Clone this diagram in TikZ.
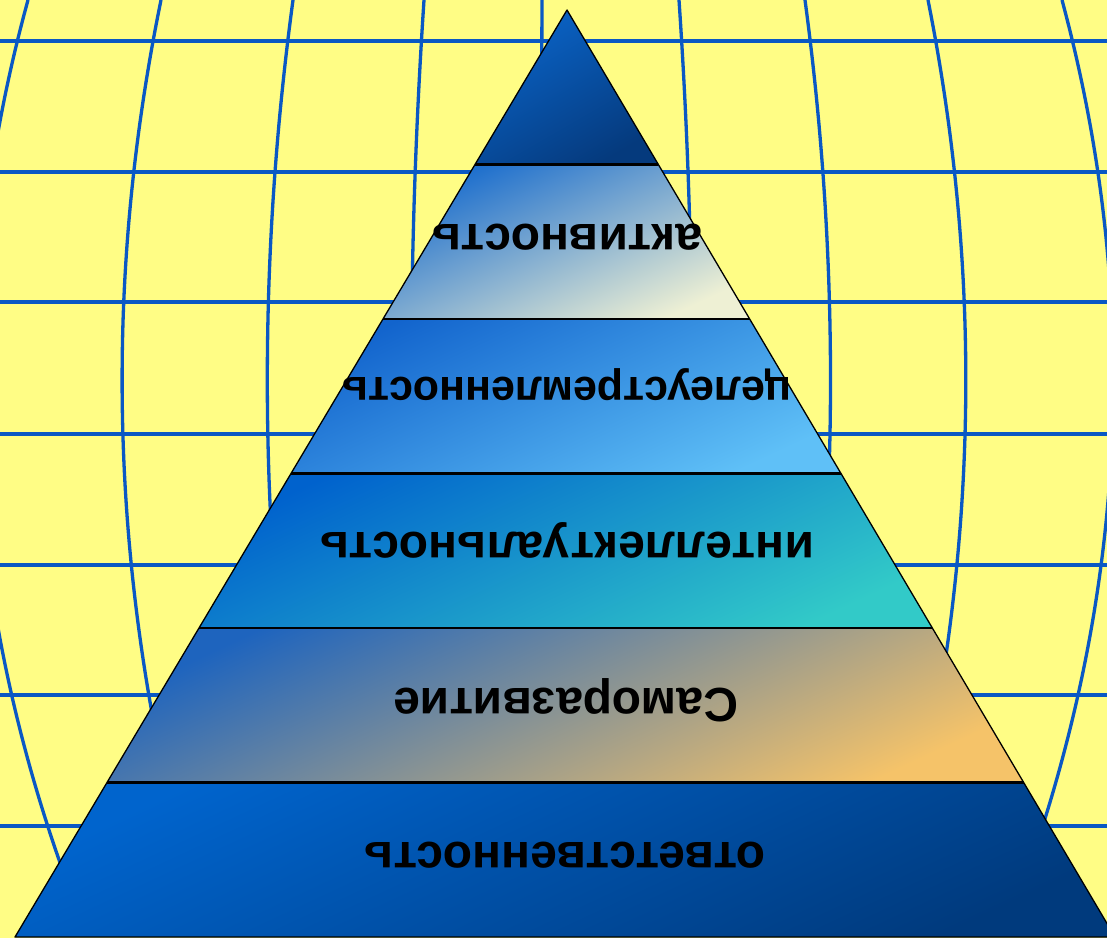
\documentclass[tikz,border=0pt]{standalone}
\usepackage{fontspec}
\setmainfont{Liberation Sans}
\usetikzlibrary{calc}
\definecolor{bgyellow}{RGB}{255,253,133}
\definecolor{gridblue}{RGB}{10,88,196}
\definecolor{caA}{RGB}{10,100,200}\definecolor{caB}{RGB}{5,58,125}\definecolor{caM}{RGB}{6,82,170}
\definecolor{cbA}{RGB}{25,108,205}\definecolor{cbM}{RGB}{90,152,205}\definecolor{cbB}{RGB}{238,240,212}
\definecolor{ccA}{RGB}{18,100,205}\definecolor{ccM}{RGB}{40,135,225}\definecolor{ccB}{RGB}{95,192,247}
\definecolor{cdA}{RGB}{0,98,205}\definecolor{cdM}{RGB}{18,140,205}\definecolor{cdB}{RGB}{50,202,200}
\definecolor{ceA}{RGB}{30,100,190}\definecolor{ceM}{RGB}{110,145,168}\definecolor{ceB}{RGB}{245,195,105}
\definecolor{cfA}{RGB}{0,100,205}\definecolor{cfM}{RGB}{0,88,180}\definecolor{cfB}{RGB}{0,58,125}
\begin{document}
\begin{tikzpicture}[x=1pt,y=-1pt,
  gridline/.style={gridblue, line width=3.3pt},
  outline/.style={draw=black, line width=1.3pt, line join=round},
  sepline/.style={black, line width=2.6pt},
  lbl/.style={font=\bfseries\fontsize{48}{48}\selectfont, rotate=180, inner sep=0pt, text height=25pt, text depth=0pt},
  lblsmall/.style={lbl, font=\bfseries\fontsize{43}{43}\selectfont, text height=22.5pt},
  layA/.style={top color=caA, middle color=caM, bottom color=caB, shading angle=30},
  layB/.style={top color=cbA, middle color=cbM, bottom color=cbB, shading angle=25},
  layC/.style={top color=ccA, middle color=ccM, bottom color=ccB, shading angle=25},
  layD/.style={top color=cdA, middle color=cdM, bottom color=cdB, shading angle=25},
  layE/.style={top color=ceA, middle color=ceM, bottom color=ceB, shading angle=25},
  layF/.style={top color=cfA, middle color=cfM, bottom color=cfB, shading angle=25}]
\useasboundingbox (0,0) rectangle (1107,938);
\fill[bgyellow] (0,0) rectangle (1107,938);
\begin{scope}
\clip (0,0) rectangle (1107,938);
% grid
\foreach \yy in {41,172,302,434,565,695,826} \draw[gridline] (0,\yy) -- (1107,\yy);
\foreach \d in {-522,-389,-257,-126,-8,129,255,378,512}
  \draw[gridline] plot[domain=0:925, samples=60, smooth] ({550+\d*(1+0.1*(\x/380)*(2-\x/380))}, \x);
% pyramid
\coordinate (apex) at (567,10);
\coordinate (bl) at (15,937);
\coordinate (br) at (1115,937);
\foreach \k in {1,...,5} {
  \coordinate (L\k) at ($(apex)!\k/6!(bl)$);
  \coordinate (R\k) at ($(apex)!\k/6!(br)$);
}
\path[layA] (apex) -- (R1) -- (L1) -- cycle;
\path[layB] (L1) -- (R1) -- (R2) -- (L2) -- cycle;
\path[layC] (L2) -- (R2) -- (R3) -- (L3) -- cycle;
\path[layD] (L3) -- (R3) -- (R4) -- (L4) -- cycle;
\path[layE] (L4) -- (R4) -- (R5) -- (L5) -- cycle;
\path[layF] (L5) -- (R5) -- (br) -- (bl) -- cycle;
\foreach \k in {1,...,5} \draw[sepline] (L\k) -- (R\k);
\draw[outline] (apex) -- (br) -- (bl) -- cycle;
% labels
\node[lbl] (t1) at (567,237) {активность};
\node[lblsmall] (t2) at (567,389) {целеустремленность};
\node[lbl] (t3) at (567,545) {интеллектуальность};
\node[lbl] (t4) at (566,701) {Саморазвитие};
\node[lbl] (t5) at (565,855) {ответственность};
\end{scope}
\end{tikzpicture}
\end{document}
